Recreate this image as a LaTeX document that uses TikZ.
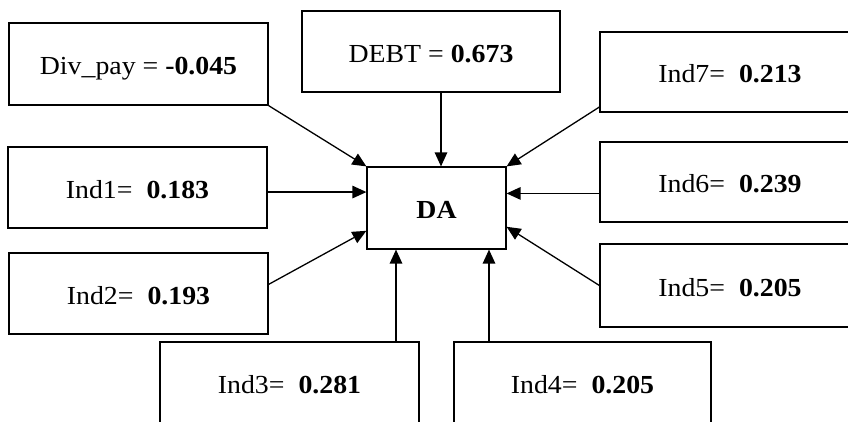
\documentclass[tikz,border=0pt]{standalone}
\usepackage{fontspec}
\setmainfont{Liberation Serif}[FakeStretch=1.07]
\usetikzlibrary{arrows.meta,calc}

\tikzset{
  box/.style={draw, line width=1.2pt, minimum width=#1, minimum height=81pt,
    inner sep=0pt, text height=21pt, text depth=0pt,
    font=\fontsize{26}{30}\selectfont},
  box/.default=259pt,
  edge/.style={line width=1.3pt, -{Triangle[length=14pt,width=12.5pt]}}
}

\begin{document}
\begin{tikzpicture}[x=1pt,y=-1pt]
\clip (0,0) rectangle (848,421);

%% centre node
\node[box=139pt, minimum height=82pt](da) at (436.5,208){\textbf{DA}};

%% left column
\node[box, minimum height=82pt](div_pay) at (138.5,64){Div\_pay = \textbf{-0.045}};
\node[box](ind1) at (137.5,187.5){Ind1=\ \ \textbf{0.183}};
\node[box](ind2) at (138.5,293.5){Ind2=\ \ \textbf{0.193}};

%% top and bottom
\node[box=258pt](debt) at (431,51.5){DEBT = \textbf{0.673}};
\node[box, minimum height=82pt](ind3) at (289.5,383){Ind3=\ \ \textbf{0.281}};
\node[box=257pt, minimum height=82pt](ind4) at (582.5,383){Ind4=\ \ \textbf{0.205}};

%% right column
\node[box=260pt, minimum height=80pt](ind7) at (730,72){Ind7=\ \ \textbf{0.213}};
\node[box=260pt, minimum height=80pt](ind6) at (730,182){Ind6=\ \ \textbf{0.239}};
\node[box=260pt, minimum height=83pt](ind5) at (730,285.5){Ind5=\ \ \textbf{0.205}};

%% start points of the vertical arrows
\coordinate (debt_out) at ($(debt.south)+(10,0)$);
\coordinate (ind3_out) at ($(ind3.north)+(106.5,0)$);
\coordinate (ind4_out) at ($(ind4.north)+(-93.5,0)$);

%% arrows into DA
\draw[edge] (div_pay.south east) -- (da.north west);
\draw[edge] (ind1.-2) -- (ind1.-2 -| da.west);
\draw[edge] (ind2.4) -- (da.198);
\draw[edge] (ind3_out) -- (ind3_out |- da.south);
\draw[edge] (ind4_out) -- (ind4_out |- da.south);
\draw[edge] (debt_out) -- (debt_out |- da.north);
\draw[edge] (ind7.195) -- (da.north east);
\draw[edge] (ind6.185) -- (ind6.185 -| da.east);
\draw[edge] (ind5.west) -- (da.-15);

\end{tikzpicture}
\end{document}
